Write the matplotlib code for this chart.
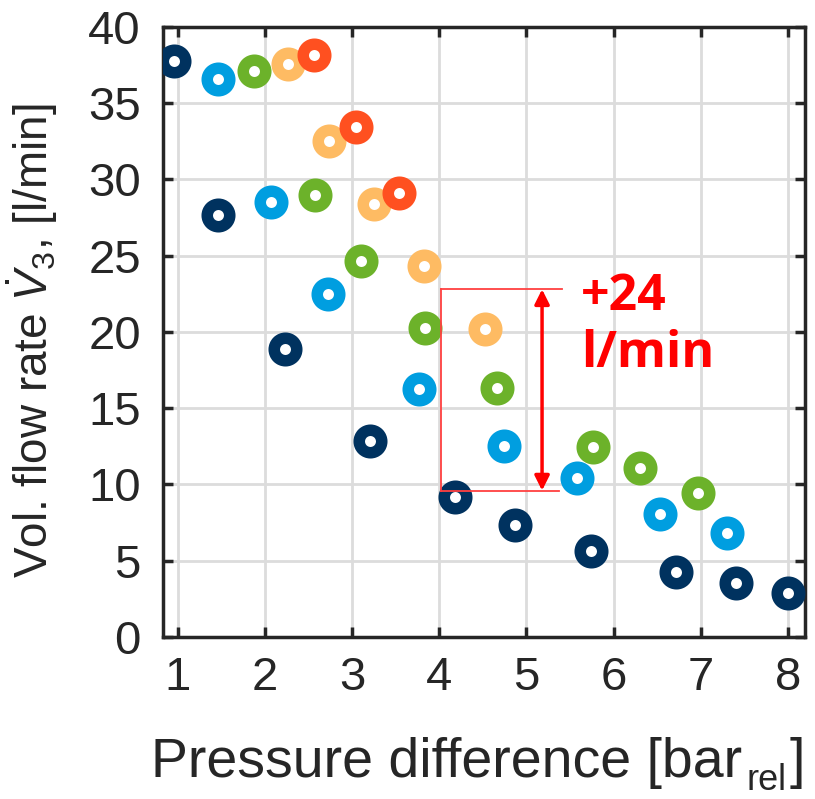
import matplotlib
matplotlib.use("Agg")
import matplotlib.pyplot as plt

plt.rcParams['font.family'] = ['Liberation Sans', 'DejaVu Sans']
plt.rcParams['mathtext.fontset'] = 'custom'
plt.rcParams['mathtext.rm'] = 'Liberation Sans'
plt.rcParams['mathtext.it'] = 'Liberation Sans:italic'

# data: pressure difference [bar_rel], flow rate [l/min]
navy_x = [0.96, 1.46, 2.23, 3.21, 4.18, 4.87, 5.74, 6.72, 7.41, 8.00]
navy_y = [37.8, 27.65, 18.9, 12.83, 9.2, 7.34, 5.64, 4.26, 3.52, 2.9]

blue_x = [1.46, 2.07, 2.72, 3.77, 4.74, 5.58, 6.53, 7.30]
blue_y = [36.6, 28.5, 22.5, 16.26, 12.55, 10.43, 8.04, 6.82]

green_x = [1.87, 2.57, 3.10, 3.84, 4.66, 5.76, 6.30, 6.97]
green_y = [37.14, 29.0, 24.66, 20.24, 16.33, 12.44, 11.08, 9.44]

orange_x = [2.26, 2.73, 3.25, 3.82, 4.52]
orange_y = [37.57, 32.52, 28.4, 24.35, 20.22]

red_x = [2.56, 3.05, 3.54]
red_y = [38.19, 33.46, 29.14]

series = [
    (navy_x, navy_y, '#00325F'),
    (blue_x, blue_y, '#009EE0'),
    (green_x, green_y, '#6CB22A'),
    (orange_x, orange_y, '#FEBB63'),
    (red_x, red_y, '#FF5020'),
]

# annotation of the gain
annot_top = 22.8
annot_bottom = 9.6
annot_lines = ['+24', 'l/min']

fig = plt.figure(figsize=(8.15, 7.99), dpi=100)
ax = fig.add_axes([0.2, 0.2028, 0.788, 0.7634])

for xs, ys, col in series:
    ax.scatter(xs, ys, s=16.2 ** 2, facecolors='white', edgecolors=col,
               linewidths=8.3, zorder=3)

# bracket lines and double arrow
ax.plot([4.02, 4.02], [annot_bottom, annot_top], color='#FF4040', lw=1.3, zorder=4)
ax.plot([4.02, 5.41], [annot_top, annot_top], color='#FF4040', lw=1.3, zorder=4)
ax.plot([4.02, 5.38], [annot_bottom, annot_bottom], color='#FF4040', lw=1.3, zorder=4)
ax.annotate('', xy=(5.18, annot_bottom), xytext=(5.18, annot_top),
            arrowprops=dict(arrowstyle='<|-|>', color='red', lw=2.5,
                            mutation_scale=22, shrinkA=0, shrinkB=0), zorder=5)
for txt, yb in zip(annot_lines, [21.44, 17.7]):
    ax.text(5.63, yb, txt, color='red', fontsize=36, fontweight='bold',
            family=['Open Sans', 'DejaVu Sans'], va='baseline', ha='left',
            zorder=5)

ax.set_xlim(0.83, 8.2)
ax.set_ylim(0, 40)
ax.set_xticks(range(1, 9))
ax.set_yticks(range(0, 41, 5))
ax.grid(True, color='#DCDCDC', lw=2)
ax.set_axisbelow(True)

for sp in ax.spines.values():
    sp.set_linewidth(2.5)
    sp.set_color('#262626')
ax.tick_params(direction='in', length=7, width=2.5, color='#262626',
               top=True, right=True, labelsize=34, labelcolor='#262626')
ax.tick_params(axis='x', pad=14)
ax.tick_params(axis='y', pad=16)

ax.set_ylabel(r'Vol. flow rate $\dot{V}_3$, [l/min]', fontsize=33,
              color='#262626')
ax.yaxis.set_label_coords(-0.16, 0.485)

# x label with a large, low subscript, built from three pieces
W, H = fig.bbox.width, fig.bbox.height
t1 = fig.text(151 / W, 22 / H, 'Pressure difference [bar', fontsize=40,
              color='#262626', va='baseline', ha='left')
fig.canvas.draw()
r = fig.canvas.get_renderer()
x1 = t1.get_window_extent(r).x1
t2 = fig.text((x1 + 4) / W, 8.5 / H, 'rel', fontsize=26, color='#262626',
              va='baseline', ha='left')
fig.canvas.draw()
x2 = t2.get_window_extent(r).x1
fig.text((x2 + 3) / W, 22 / H, ']', fontsize=40, color='#262626',
         va='baseline', ha='left')

fig.savefig('out.png', dpi=100)
